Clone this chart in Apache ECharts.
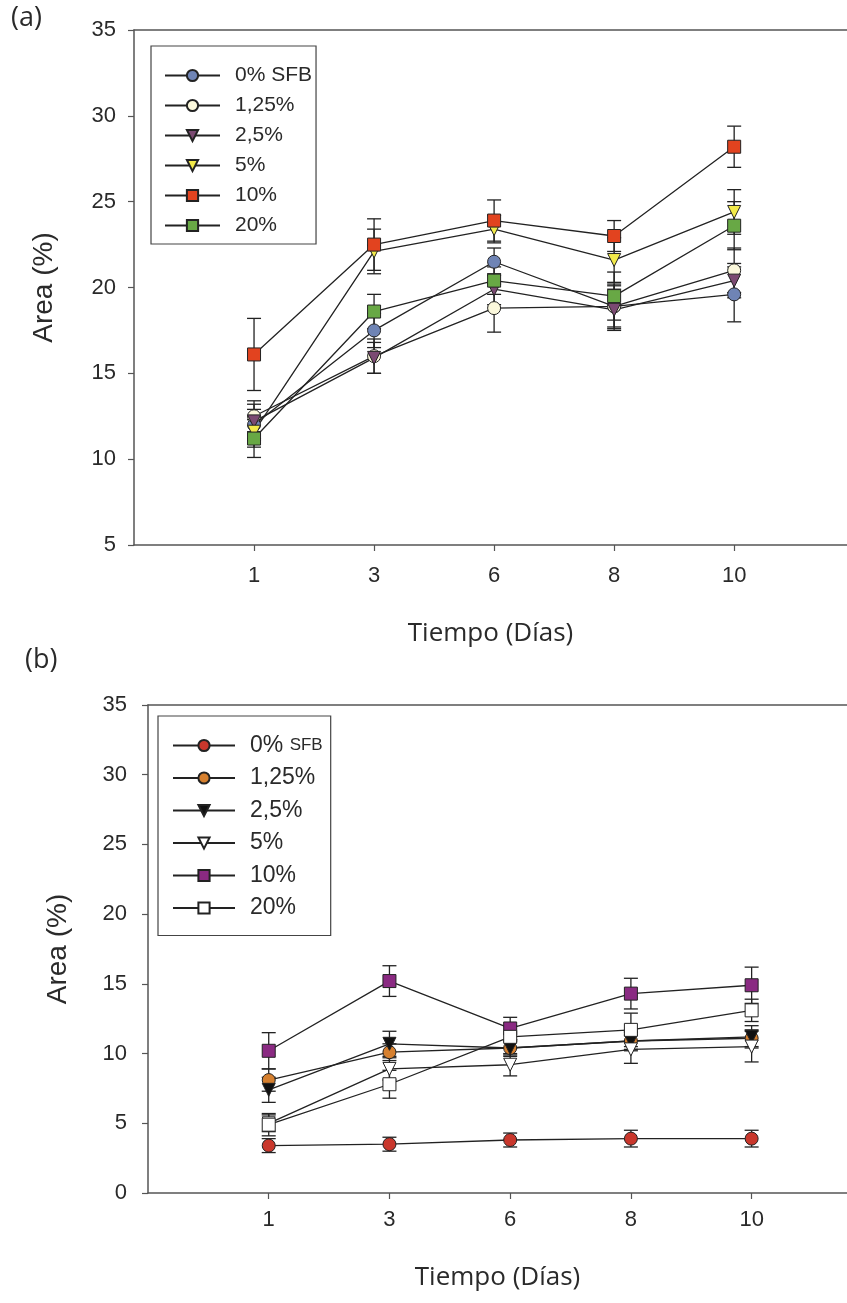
<!DOCTYPE html>
<html>
<head>
<meta charset="utf-8">
<script src="https://cdn.jsdelivr.net/npm/echarts@6/dist/echarts.min.js"></script>
<style>
  html, body { margin: 0; background: #fff; }
  #main { width: 847px; height: 1303px; }
</style>
</head>
<body>
<div id="main"></div>
<script>
// dias en el eje x
const days = ['1', '3', '6', '8', '10']
const legendNames = ['0% SFB', '1,25%', '2,5%', '5%', '10%', '20%']

// panel (a)
const a0 = [12.0, 17.5, 21.5, 18.9, 19.6]
const a0Err = [0.9, 1.0, 0.8, 1.2, 1.6]
const a125 = [12.5, 16.0, 18.8, 18.9, 21.0]
const a125Err = [0.9, 1.0, 1.4, 1.3, 1.3]
const a25 = [12.2, 15.9, 19.9, 18.7, 20.4]
const a25Err = [1.0, 0.9, 0.9, 1.2, 1.0]
const a5 = [11.6, 22.1, 23.4, 21.6, 24.4]
const a5Err = [0.9, 1.3, 0.8, 1.3, 1.3]
const a10 = [16.1, 22.5, 23.9, 23.0, 28.2]
const a10Err = [2.1, 1.5, 1.2, 0.9, 1.2]
const a20 = [11.2, 18.6, 20.4, 19.5, 23.6]
const a20Err = [1.1, 1.0, 0.8, 1.4, 1.4]

// panel (b)
const b0 = [3.4, 3.5, 3.8, 3.9, 3.9]
const b0Err = [0.5, 0.5, 0.5, 0.6, 0.6]
const b125 = [8.1, 10.1, 10.4, 10.9, 11.1]
const b125Err = [0.8, 0.6, 0.5, 0.6, 0.6]
const b25 = [7.4, 10.7, 10.4, 10.9, 11.2]
const b25Err = [0.9, 0.9, 0.6, 0.7, 0.8]
const b5 = [5.0, 8.9, 9.2, 10.3, 10.5]
const b5Err = [0.6, 0.8, 0.8, 1.0, 1.1]
const b10 = [10.2, 15.2, 11.8, 14.3, 14.9]
const b10Err = [1.3, 1.1, 0.8, 1.1, 1.3]
const b20 = [4.9, 7.8, 11.2, 11.7, 13.1]
const b20Err = [0.8, 1.0, 0.8, 1.2, 0.8]

const yTicksA = [5, 10, 15, 20, 25, 30, 35]
const yTicksB = [0, 5, 10, 15, 20, 25, 30, 35]

var myChart = echarts.init(document.getElementById('main'))

const axisColor = '#555'
const textColor = '#2a2a2a'
const sans = 'Liberation Sans, Arial, sans-serif'

// el eje x sigue mas alla del borde derecho (figura recortada)
const xMaxA = 5.94
const xMaxB = 5.79

var lineSeries = function (id, panel, vals, symbol, color, size) {
  return {
    name: id,
    type: 'line',
    xAxisIndex: panel * 2,
    yAxisIndex: panel,
    data: vals.map((v, i) => [i + 1, v]),
    symbol: symbol,
    symbolSize: size,
    symbolRotate: symbol === 'triangle' ? 180 : 0,
    showAllSymbol: true,
    lineStyle: { color: '#222', width: 1.3 },
    itemStyle: { color: color, borderColor: '#222', borderWidth: 1 },
    z: 3,
    animation: false
  }
}

var errSeries = function (panel, vals, errs) {
  return {
    type: 'custom',
    xAxisIndex: panel * 2,
    yAxisIndex: panel,
    silent: true,
    z: 2,
    data: vals.map((v, i) => [i + 1, v, errs[i]]),
    renderItem: function (params, api) {
      const x = api.value(0)
      const m = api.value(1)
      const e = api.value(2)
      const top = api.coord([x, m + e])
      const bot = api.coord([x, m - e])
      const w = 7
      const st = { stroke: '#222', lineWidth: 1.3 }
      return {
        type: 'group',
        children: [
          { type: 'line', shape: { x1: top[0], y1: top[1], x2: bot[0], y2: bot[1] }, style: st },
          { type: 'line', shape: { x1: top[0] - w, y1: top[1], x2: top[0] + w, y2: top[1] }, style: st },
          { type: 'line', shape: { x1: bot[0] - w, y1: bot[1], x2: bot[0] + w, y2: bot[1] }, style: st }
        ]
      }
    },
    animation: false
  }
}

var xBottom = function (grid, max, margin, gap) {
  return {
    type: 'value',
    gridIndex: grid,
    min: 0,
    max: max,
    interval: 1,
    splitLine: { show: false },
    axisLine: { show: true, lineStyle: { color: axisColor, width: 1.5 } },
    axisTick: { show: true, customValues: [1, 2, 3, 4, 5], length: 6, lineStyle: { color: axisColor, width: 1.2 } },
    axisLabel: {
      customValues: [1, 2, 3, 4, 5],
      margin: margin,
      color: textColor,
      fontSize: 22,
      fontFamily: sans,
      formatter: (v) => days[v - 1] || ''
    },
    name: 'Tiempo (Días)',
    nameLocation: 'middle',
    nameGap: gap,
    nameTextStyle: { fontSize: 26, color: textColor, fontFamily: 'Open Sans, sans-serif' }
  }
}

var xTop = function (grid, max) {
  return {
    type: 'value',
    gridIndex: grid,
    position: 'top',
    min: 0,
    max: max,
    axisLine: { show: true, lineStyle: { color: axisColor, width: 1.5 } },
    axisTick: { show: false },
    axisLabel: { show: false },
    splitLine: { show: false }
  }
}

var yAxis = function (grid, ticks, margin) {
  return {
    type: 'value',
    gridIndex: grid,
    min: ticks[0],
    max: ticks[ticks.length - 1],
    interval: 5,
    splitLine: { show: false },
    axisLine: { show: true, lineStyle: { color: axisColor, width: 1.5 } },
    axisTick: { show: true, length: 6, lineStyle: { color: axisColor, width: 1.2 } },
    axisLabel: { margin: margin, color: textColor, fontSize: 22, fontFamily: sans },
    name: 'Area (%)',
    nameLocation: 'middle',
    nameGap: 76,
    nameTextStyle: { fontSize: 28, color: textColor, fontFamily: sans }
  }
}

var legendBox = function (panel, left, top, fontSize, itemGap, itemWidth, pad) {
  const ids = legendNames.map((n, i) => (panel === 0 ? 'a' : 'b') + i)
  return {
    data: ids,
    orient: 'vertical',
    left: left,
    top: top,
    padding: pad,
    itemGap: itemGap,
    itemWidth: itemWidth,
    itemHeight: 14,
    backgroundColor: '#fff',
    borderColor: '#444',
    borderWidth: 1.2,
    borderRadius: 0,
    selectedMode: false,
    formatter: function (name) {
      const idx = +name.slice(1)
      if (panel === 1 && idx === 0) return '{n|0% }{s|SFB}'
      return legendNames[idx]
    },
    textStyle: {
      color: textColor,
      fontSize: fontSize,
      fontFamily: sans,
      padding: [0, 0, 0, 10],
      rich: {
        n: { fontSize: fontSize, fontFamily: sans, color: textColor },
        s: { fontSize: fontSize - 6, fontFamily: sans, color: textColor }
      }
    }
  }
}

var option = {
  backgroundColor: '#fff',
  animation: false,
  title: [
    { text: '(a)', left: 6, top: 0, textStyle: { fontSize: 27, fontWeight: 'normal', color: textColor, fontFamily: 'Open Sans, sans-serif' } },
    { text: '(b)', left: 20, top: 642, textStyle: { fontSize: 27, fontWeight: 'normal', color: textColor, fontFamily: 'Open Sans, sans-serif' } }
  ],
  grid: [
    { left: 134, top: 30, right: 0, bottom: 758 },
    { left: 148, top: 705, right: 0, bottom: 110 }
  ],
  xAxis: [xBottom(0, xMaxA, 20, 76), xTop(0, xMaxA), xBottom(1, xMaxB, 16, 72), xTop(1, xMaxB)],
  yAxis: [yAxis(0, yTicksA, 18), yAxis(1, yTicksB, 21)],
  legend: [
    legendBox(0, 151, 46, 21, 9, 55, [19, 4, 8, 13]),
    legendBox(1, 158, 716, 23, 9.5, 62, [18, 8, 16, 14])
  ],
  series: [
    errSeries(0, a0, a0Err),
    errSeries(0, a125, a125Err),
    errSeries(0, a25, a25Err),
    errSeries(0, a5, a5Err),
    errSeries(0, a10, a10Err),
    errSeries(0, a20, a20Err),
    lineSeries('a0', 0, a0, 'circle', '#6f84b5', 13),
    lineSeries('a1', 0, a125, 'circle', '#fbf8dc', 13),
    lineSeries('a2', 0, a25, 'triangle', '#7b4a72', 13),
    lineSeries('a3', 0, a5, 'triangle', '#f2ea4a', 13),
    lineSeries('a4', 0, a10, 'rect', '#e2431f', 13),
    lineSeries('a5', 0, a20, 'rect', '#68a845', 13),
    errSeries(1, b0, b0Err),
    errSeries(1, b125, b125Err),
    errSeries(1, b25, b25Err),
    errSeries(1, b5, b5Err),
    errSeries(1, b10, b10Err),
    errSeries(1, b20, b20Err),
    lineSeries('b0', 1, b0, 'circle', '#c9372c', 13),
    lineSeries('b1', 1, b125, 'circle', '#d6802f', 13),
    lineSeries('b2', 1, b25, 'triangle', '#111', 13),
    lineSeries('b3', 1, b5, 'triangle', '#fff', 13),
    lineSeries('b4', 1, b10, 'rect', '#8a2a82', 13),
    lineSeries('b5', 1, b20, 'rect', '#fff', 13)
  ]
}
myChart.setOption(option)
</script>
</body>
</html>
